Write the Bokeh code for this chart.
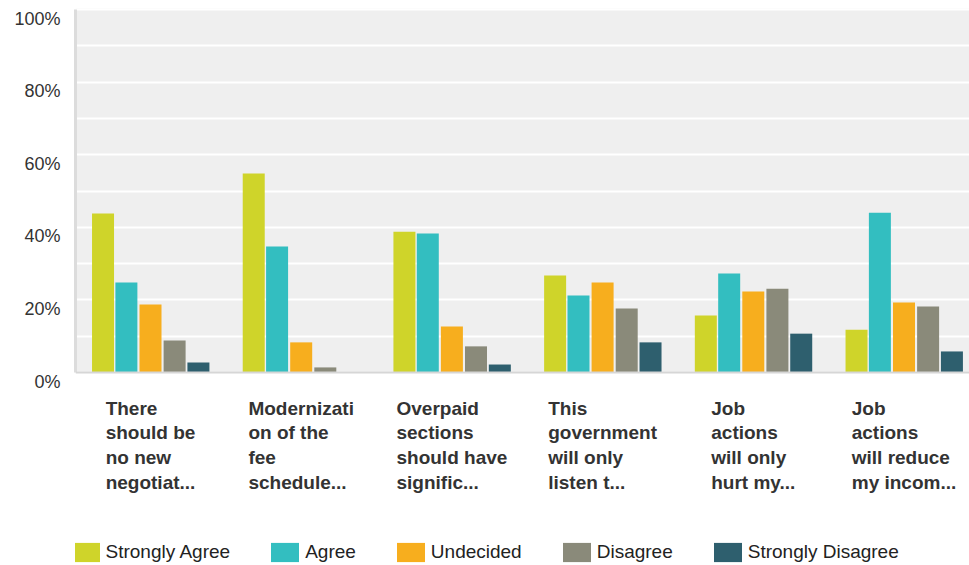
import numpy as np
from bokeh.plotting import figure
from bokeh.models import (ColumnDataSource, Range1d, FixedTicker, PrintfTickFormatter,
                          BoxAnnotation, Span, Legend, LegendItem, LinearAxis)
from bokeh.core.properties import value
from bokeh.embed import file_html
from bokeh.resources import INLINE

# ---------------- data ----------------
categories = [
    "There\nshould be\nno new\nnegotiat...",
    "Modernizati\non of the\nfee\nschedule...",
    "Overpaid\nsections\nshould have\nsignific...",
    "This\ngovernment\nwill only\nlisten t...",
    "Job\nactions\nwill only\nhurt my...",
    "Job\nactions\nwill reduce\nmy incom...",
]
series_names = ["Strongly Agree", "Agree", "Undecided", "Disagree", "Strongly Disagree"]
strongly_agree = [43.8, 54.8, 38.8, 26.7, 15.7, 11.8]
agree = [24.8, 34.7, 38.3, 21.2, 27.3, 44.0]
undecided = [18.7, 8.3, 12.7, 24.8, 22.3, 19.3]
disagree = [8.8, 1.4, 7.2, 17.6, 23.1, 18.2]
strongly_disagree = [2.75, 0.0, 2.2, 8.3, 10.7, 5.8]
y_ticks = [0, 20, 40, 60, 80, 100]

# ---------------- style ----------------
colors = ["#cfd42a", "#33bec0", "#f7ae1e", "#8a8a7a", "#2e5f6e"]
offsets = [-0.315, -0.16, 0.0, 0.16, 0.318]
bar_width = 0.146
FONT = "Liberation Sans"
TEXT_COLOR = "#333333"

W, H = 969, 565
left_border = 75
top_border = 8
px_per_cat = 150.7
px_per_unit = 3.63
zero_px = 372              # y pixel of the 0% line
hundred_px = 9             # y pixel of the 100% line
x_start = -75 / px_per_cat
x_end = x_start + (W - left_border) / px_per_cat
y_end = 100 + (hundred_px - top_border) / px_per_unit
y_start = -(H - zero_px) / px_per_unit
label_shift = 9 / px_per_unit   # tick labels sit slightly below their gridline

p = figure(width=W, height=H, output_backend="svg", toolbar_location=None,
           x_range=Range1d(x_start, x_end), y_range=Range1d(y_start, y_end),
           x_axis_location=None, y_axis_location="left",
           min_border_left=left_border, min_border_right=0,
           min_border_top=top_border, min_border_bottom=0)
p.outline_line_color = None
p.background_fill_color = "white"
p.border_fill_color = "white"
p.xgrid.visible = False
p.extra_y_ranges = {"labels": Range1d(y_start + label_shift, y_end + label_shift)}

# plot background only over the 0..100 band
p.add_layout(BoxAnnotation(bottom=0, fill_color="#efefef", fill_alpha=1.0,
                           line_color=None, level="image"))

p.ygrid.ticker = FixedTicker(ticks=list(range(0, 101, 10)))
p.ygrid.grid_line_color = "white"
p.ygrid.grid_line_width = 2

# axis line only (0..100), no ticks or labels
ax = p.yaxis[0]
ax.ticker = FixedTicker(ticks=[])
ax.bounds = (0, 100)
ax.axis_line_color = "#dcdcdc"
ax.axis_line_width = 3
ax.major_tick_line_color = None
ax.minor_tick_line_color = None
ax.major_tick_out = 0
ax.major_tick_in = 0
ax.minor_tick_out = 0
ax.major_label_standoff = 0

# tick labels
lab_ax = LinearAxis(y_range_name="labels", ticker=FixedTicker(ticks=y_ticks),
                    formatter=PrintfTickFormatter(format="%d%%"),
                    axis_line_color=None, major_tick_line_color=None,
                    minor_tick_line_color=None, major_tick_out=0, major_tick_in=0,
                    minor_tick_out=0, major_label_standoff=15,
                    major_label_text_font=FONT, major_label_text_font_size="18px",
                    major_label_text_color=TEXT_COLOR)
p.add_layout(lab_ax, "left")

all_series = [strongly_agree, agree, undecided, disagree, strongly_disagree]
idx = np.arange(len(categories))
items = []
for name, vals, col, off in zip(series_names, all_series, colors, offsets):
    src = ColumnDataSource(dict(x=idx + off, top=vals))
    r = p.vbar(x="x", top="top", bottom=0, width=bar_width, source=src,
               fill_color=col, line_color=None)
    items.append(LegendItem(label=name, renderers=[r]))

p.add_layout(Span(location=0, dimension="width", line_color="#d6d6d6", line_width=2))

# category labels below the plot band
label_top_px = 397
lab_src = ColumnDataSource(dict(x=idx, y=[-(label_top_px - zero_px) / px_per_unit] * len(idx),
                                text=categories))
p.text(x="x", y="y", text="text", source=lab_src, anchor="top_center",
       text_align="left", text_baseline="top", text_font=value(FONT),
       text_font_style="bold", text_font_size="19px", text_color=TEXT_COLOR,
       text_line_height=1.19)

legend = Legend(items=items, orientation="horizontal", location=(-7.5, 1),
                glyph_width=35, glyph_height=24, label_standoff=3, spacing=37,
                padding=0, margin=0, border_line_color=None,
                background_fill_alpha=0, label_text_font=FONT,
                label_text_font_size="19px", label_text_color="#222222")
p.add_layout(legend, "center")

open("out.html", "w").write(file_html(p, INLINE))
